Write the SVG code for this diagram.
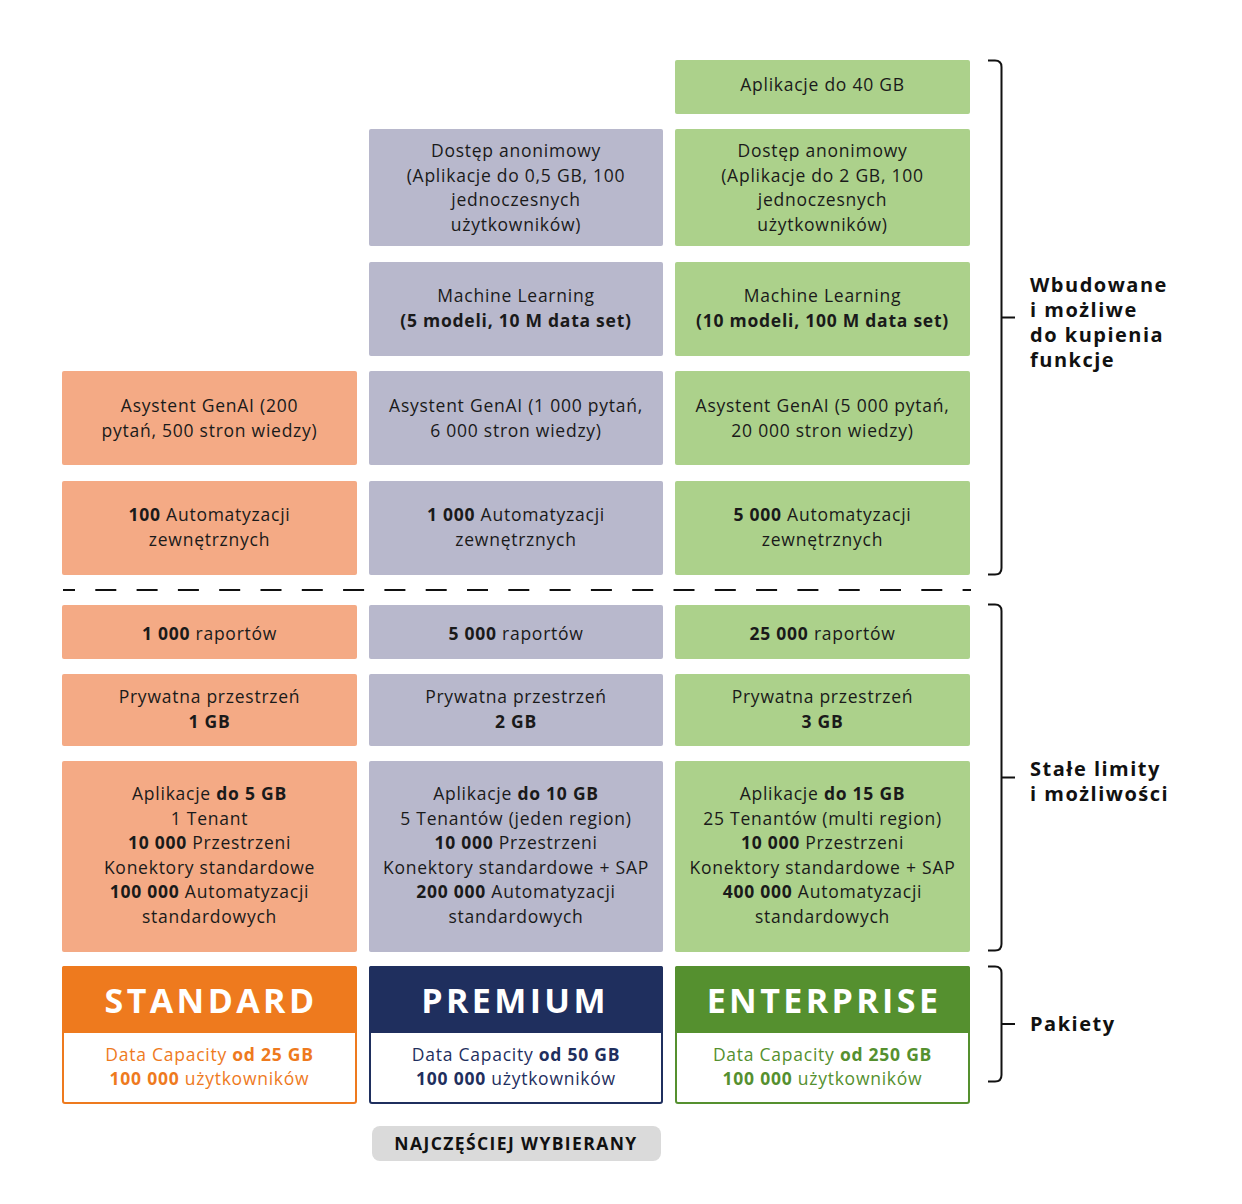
<svg xmlns="http://www.w3.org/2000/svg" width="1242" height="1204" viewBox="0 0 1242 1204">
<style>
text{font-family:"Open Sans","DejaVu Sans",sans-serif;font-size:17.5px;letter-spacing:0.75px;fill:#1a1a1a;text-anchor:middle}
.b{font-weight:700}
.o{fill:#f4aa85}.p{fill:#b8b8cc}.g{fill:#acd18b}
.lab{font-size:20px;font-weight:700;text-anchor:start;fill:#111;letter-spacing:1.5px}
.hd{font-size:34px;font-weight:700;fill:#fff;letter-spacing:3.4px}
.br{fill:none;stroke:#111;stroke-width:2}
</style>
<rect width="1242" height="1204" fill="#fff"/>
<g id="enterprise-apps40"><rect class="g" x="675" y="60" width="295" height="54" rx="2"/><text x="822.5" y="91">Aplikacje do 40 GB</text></g>
<g id="premium-anon"><rect class="p" x="369" y="129" width="294" height="117" rx="2"/><text x="516" y="157">Dostęp anonimowy</text><text x="516" y="181.5">(Aplikacje do 0,5 GB, 100</text><text x="516" y="206">jednoczesnych</text><text x="516" y="230.5">użytkowników)</text></g>
<g id="enterprise-anon"><rect class="g" x="675" y="129" width="295" height="117" rx="2"/><text x="822.5" y="157">Dostęp anonimowy</text><text x="822.5" y="181.5">(Aplikacje do 2 GB, 100</text><text x="822.5" y="206">jednoczesnych</text><text x="822.5" y="230.5">użytkowników)</text></g>
<g id="premium-ml"><rect class="p" x="369" y="262" width="294" height="94" rx="2"/><text x="516" y="302">Machine Learning</text><text x="516" y="327" class="b">(5 modeli, 10 M data set)</text></g>
<g id="enterprise-ml"><rect class="g" x="675" y="262" width="295" height="94" rx="2"/><text x="822.5" y="302">Machine Learning</text><text x="822.5" y="327" class="b">(10 modeli, 100 M data set)</text></g>
<g id="standard-genai"><rect class="o" x="62" y="371" width="295" height="94" rx="2"/><text x="209.5" y="412">Asystent GenAI (200</text><text x="209.5" y="436.5">pytań, 500 stron wiedzy)</text></g>
<g id="premium-genai"><rect class="p" x="369" y="371" width="294" height="94" rx="2"/><text x="516" y="412">Asystent GenAI (1 000 pytań,</text><text x="516" y="436.5">6 000 stron wiedzy)</text></g>
<g id="enterprise-genai"><rect class="g" x="675" y="371" width="295" height="94" rx="2"/><text x="822.5" y="412">Asystent GenAI (5 000 pytań,</text><text x="822.5" y="436.5">20 000 stron wiedzy)</text></g>
<g id="standard-auto"><rect class="o" x="62" y="481" width="295" height="94" rx="2"/><text x="209.5" y="521"><tspan class="b">100</tspan> Automatyzacji</text><text x="209.5" y="545.5">zewnętrznych</text></g>
<g id="premium-auto"><rect class="p" x="369" y="481" width="294" height="94" rx="2"/><text x="516" y="521"><tspan class="b">1 000</tspan> Automatyzacji</text><text x="516" y="545.5">zewnętrznych</text></g>
<g id="enterprise-auto"><rect class="g" x="675" y="481" width="295" height="94" rx="2"/><text x="822.5" y="521"><tspan class="b">5 000</tspan> Automatyzacji</text><text x="822.5" y="545.5">zewnętrznych</text></g>
<g id="standard-reports"><rect class="o" x="62" y="605" width="295" height="54" rx="2"/><text x="209.5" y="640"><tspan class="b">1 000</tspan> raportów</text></g>
<g id="premium-reports"><rect class="p" x="369" y="605" width="294" height="54" rx="2"/><text x="516" y="640"><tspan class="b">5 000</tspan> raportów</text></g>
<g id="enterprise-reports"><rect class="g" x="675" y="605" width="295" height="54" rx="2"/><text x="822.5" y="640"><tspan class="b">25 000</tspan> raportów</text></g>
<g id="standard-space"><rect class="o" x="62" y="674" width="295" height="72" rx="2"/><text x="209.5" y="703">Prywatna przestrzeń</text><text x="209.5" y="728" class="b">1 GB</text></g>
<g id="premium-space"><rect class="p" x="369" y="674" width="294" height="72" rx="2"/><text x="516" y="703">Prywatna przestrzeń</text><text x="516" y="728" class="b">2 GB</text></g>
<g id="enterprise-space"><rect class="g" x="675" y="674" width="295" height="72" rx="2"/><text x="822.5" y="703">Prywatna przestrzeń</text><text x="822.5" y="728" class="b">3 GB</text></g>
<g id="standard-limits"><rect class="o" x="62" y="761" width="295" height="191" rx="2"/><text x="209.5" y="800">Aplikacje <tspan class="b">do 5 GB</tspan></text><text x="209.5" y="824.5">1 Tenant</text><text x="209.5" y="849"><tspan class="b">10 000</tspan> Przestrzeni</text><text x="209.5" y="873.5">Konektory standardowe</text><text x="209.5" y="898"><tspan class="b">100 000</tspan> Automatyzacji</text><text x="209.5" y="922.5">standardowych</text></g>
<g id="premium-limits"><rect class="p" x="369" y="761" width="294" height="191" rx="2"/><text x="516" y="800">Aplikacje <tspan class="b">do 10 GB</tspan></text><text x="516" y="824.5">5 Tenantów (jeden region)</text><text x="516" y="849"><tspan class="b">10 000</tspan> Przestrzeni</text><text x="516" y="873.5">Konektory standardowe + SAP</text><text x="516" y="898"><tspan class="b">200 000</tspan> Automatyzacji</text><text x="516" y="922.5">standardowych</text></g>
<g id="enterprise-limits"><rect class="g" x="675" y="761" width="295" height="191" rx="2"/><text x="822.5" y="800">Aplikacje <tspan class="b">do 15 GB</tspan></text><text x="822.5" y="824.5">25 Tenantów (multi region)</text><text x="822.5" y="849"><tspan class="b">10 000</tspan> Przestrzeni</text><text x="822.5" y="873.5">Konektory standardowe + SAP</text><text x="822.5" y="898"><tspan class="b">400 000</tspan> Automatyzacji</text><text x="822.5" y="922.5">standardowych</text></g>
<g id="pkg-standard"><rect x="63" y="967" width="293" height="136" rx="2" fill="#fff" stroke="#ee7a1e" stroke-width="2"/><rect x="62" y="966" width="295" height="67" fill="#ee7a1e" rx="2"/><text class="hd" x="211" y="1013">STANDARD</text><text x="209.5" y="1061" style="fill:#ee7a1e">Data Capacity <tspan class="b">od 25 GB</tspan></text><text x="209.5" y="1085" style="fill:#ee7a1e"><tspan class="b">100 000</tspan> użytkowników</text></g>
<g id="pkg-premium"><rect x="370" y="967" width="292" height="136" rx="2" fill="#fff" stroke="#1f2f5e" stroke-width="2"/><rect x="369" y="966" width="294" height="67" fill="#1f2f5e" rx="2"/><text class="hd" x="515" y="1013">PREMIUM</text><text x="516" y="1061" style="fill:#1f2f5e">Data Capacity <tspan class="b">od 50 GB</tspan></text><text x="516" y="1085" style="fill:#1f2f5e"><tspan class="b">100 000</tspan> użytkowników</text></g>
<g id="pkg-enterprise"><rect x="676" y="967" width="293" height="136" rx="2" fill="#fff" stroke="#55902f" stroke-width="2"/><rect x="675" y="966" width="295" height="67" fill="#55902f" rx="2"/><text class="hd" x="824" y="1013">ENTERPRISE</text><text x="822.5" y="1061" style="fill:#55902f">Data Capacity <tspan class="b">od 250 GB</tspan></text><text x="822.5" y="1085" style="fill:#55902f"><tspan class="b">100 000</tspan> użytkowników</text></g>
<g id="badge"><rect x="372" y="1126" width="289" height="35" rx="8" fill="#dadada"/><text x="516" y="1150" class="b" style="font-size:17.5px;fill:#111;letter-spacing:1.4px">NAJCZĘŚCIEJ WYBIERANY</text></g>
<g id="connectors">
<line x1="63" y1="590" x2="971" y2="590" stroke="#111" stroke-width="2" stroke-dasharray="21 20.3" stroke-dashoffset="9"/>
<path class="br" d="M988 60.5 H995 Q1001.5 60.5 1001.5 67 V568 Q1001.5 574.5 995 574.5 H988 M1001.5 317.5 H1015"/>
<path class="br" d="M988 604.5 H995 Q1001.5 604.5 1001.5 611 V944 Q1001.5 950.5 995 950.5 H988 M1001.5 777.5 H1015"/>
<path class="br" d="M988 966.5 H995 Q1001.5 966.5 1001.5 973 V1075 Q1001.5 1081.5 995 1081.5 H988 M1001.5 1024 H1015"/>
</g>
<g id="labels">
<text class="lab" x="1030" y="292">Wbudowane</text><text class="lab" x="1030" y="317">i możliwe</text><text class="lab" x="1030" y="342">do kupienia</text><text class="lab" x="1030" y="367">funkcje</text>
<text class="lab" x="1030" y="776">Stałe limity</text><text class="lab" x="1030" y="801">i możliwości</text>
<text class="lab" x="1030" y="1031">Pakiety</text>
</g>
</svg>
